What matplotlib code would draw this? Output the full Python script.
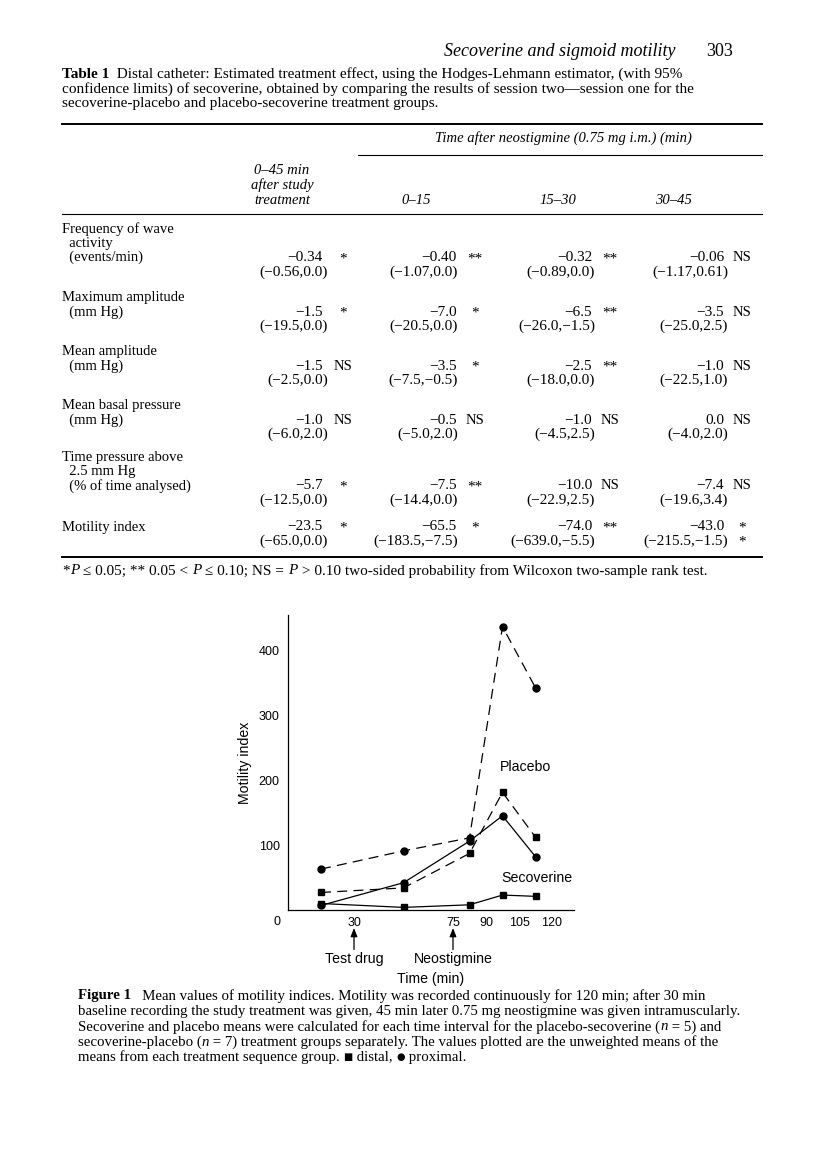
import numpy as np
import matplotlib.pyplot as plt

# chart data
time_mid = [15, 52.5, 82.5, 97.5, 112.5]
placebo_proximal = [63, 91, 111, 436, 342]
placebo_distal = [27, 34, 87, 181, 112]
secoverine_proximal = [7, 42, 106, 145, 82]
secoverine_distal = [10, 4, 8, 23, 21]
xticks = [30, 75, 90, 105, 120]
yticks = [100, 200, 300, 400]

# table 1 data
row_labels = [
    ["Frequency of wave", "  activity", "  (events/min)"],
    ["Maximum amplitude", "  (mm Hg)"],
    ["Mean amplitude", "  (mm Hg)"],
    ["Mean basal pressure", "  (mm Hg)"],
    ["Time pressure above", "  2.5 mm Hg", "  (% of time analysed)"],
    ["Motility index"],
]
estimates = [
    ["\u22120.34", "\u22120.40", "\u22120.32", "\u22120.06"],
    ["\u22121.5", "\u22127.0", "\u22126.5", "\u22123.5"],
    ["\u22121.5", "\u22123.5", "\u22122.5", "\u22121.0"],
    ["\u22121.0", "\u22120.5", "\u22121.0", "0.0"],
    ["\u22125.7", "\u22127.5", "\u221210.0", "\u22127.4"],
    ["\u221223.5", "\u221265.5", "\u221274.0", "\u221243.0"],
]
limits = [
    ["(\u22120.56,0.0)", "(\u22121.07,0.0)", "(\u22120.89,0.0)", "(\u22121.17,0.61)"],
    ["(\u221219.5,0.0)", "(\u221220.5,0.0)", "(\u221226.0,\u22121.5)", "(\u221225.0,2.5)"],
    ["(\u22122.5,0.0)", "(\u22127.5,\u22120.5)", "(\u221218.0,0.0)", "(\u221222.5,1.0)"],
    ["(\u22126.0,2.0)", "(\u22125.0,2.0)", "(\u22124.5,2.5)", "(\u22124.0,2.0)"],
    ["(\u221212.5,0.0)", "(\u221214.4,0.0)", "(\u221222.9,2.5)", "(\u221219.6,3.4)"],
    ["(\u221265.0,0.0)", "(\u2212183.5,\u22127.5)", "(\u2212639.0,\u22125.5)", "(\u2212215.5,\u22121.5)"],
]
signif = [
    ["*", "**", "**", "NS"],
    ["*", "*", "**", "NS"],
    ["NS", "*", "**", "NS"],
    ["NS", "NS", "NS", "NS"],
    ["*", "**", "NS", "NS"],
    ["*", "*", "**", "*"],
]
signif_ci = ["", "", "", "", "", "*"]  # last cell has a second star
col_heads = ["0\u201315", "15\u201330", "30\u201345"]

W, H = 816, 1165
SERIF = ["Liberation Serif", "DejaVu Serif"]
SANS = ["Liberation Sans", "DejaVu Sans"]
FS = 10.5     # table labels
NUM = 11      # table numbers
CAP = 11      # captions
CH = 10.2     # chart labels

fig = plt.figure(figsize=(W / 100, H / 100), dpi=100)
renderer = fig.canvas.get_renderer()


def px(x, y):
    return x / W, 1 - y / H


def t(x, y, s, ha="left", size=FS, **kw):
    return fig.text(*px(x, y), s, ha=ha, va="center", fontsize=size,
                    family=kw.pop("family", SERIF), **kw)


def runs(x, y, parts, size=FS):
    # draw a line made of pieces with different weight/style
    for s, kw in parts:
        kw = dict(kw)
        tx = t(x, y, s, size=kw.pop("size", size), **kw)
        x += tx.get_window_extent(renderer).width


def hline(y, x0, x1, lw=0.8):
    fig.add_artist(plt.Line2D([x0 / W, x1 / W], [1 - y / H, 1 - y / H],
                              color="black", lw=lw))


# running head
t(675, 52, "Secoverine and sigmoid motility", ha="right", size=13, style="italic")
t(733, 52, "303", ha="right", size=13)

# table caption
runs(62, 74, [("Table 1", dict(weight="bold")),
              ("  Distal catheter: Estimated treatment effect, using the Hodges-Lehmann estimator, (with 95%", {})],
     size=CAP)
t(62, 89, "confidence limits) of secoverine, obtained by comparing the results of session two\u2014session one for the",
  size=CAP)
t(62, 104, "secoverine-placebo and placebo-secoverine treatment groups.", size=CAP)

hline(124, 62, 762, lw=1.4)
t(563, 138, "Time after neostigmine (0.75 mg i.m.) (min)", ha="center", style="italic")
hline(155, 358, 762)
t(282, 171, "0\u201345 min", ha="center", style="italic")
t(282, 185.5, "after study", ha="center", style="italic")
t(282, 200, "treatment", ha="center", style="italic")
for xc, s in zip([416, 558, 673], col_heads):
    t(xc, 200, s, ha="center", style="italic")
hline(214, 62, 762)

val_right = [323, 457, 592, 724]
ci_right = [328, 458, 595, 728]
sig_x = [343, 475, 610, 742]
row_top = [229, 298, 352, 406, 457, 527]
step = 14.3
for i, labels in enumerate(row_labels):
    y0 = row_top[i]
    for k, lab in enumerate(labels):
        t(62, y0 + k * step, lab)
    yv = y0 + (len(labels) - 1) * step
    for j in range(4):
        t(val_right[j], yv, estimates[i][j], ha="right", size=NUM)
        if signif[i][j] == "NS":
            t(sig_x[j], yv, "NS", ha="center", size=FS)
        else:
            t(sig_x[j], yv + 1, signif[i][j], ha="center", size=NUM)
        t(ci_right[j], yv + step, limits[i][j], ha="right", size=NUM)
    if signif_ci[i]:
        t(sig_x[3], yv + step + 1, signif_ci[i], ha="center", size=NUM)

hline(557, 62, 762, lw=1.4)
runs(62, 571, [("*", {}), ("P", dict(style="italic")), (" \u2264 0.05; ** 0.05 < ", {}),
               ("P", dict(style="italic")), (" \u2264 0.10; NS = ", {}), ("P", dict(style="italic")),
               (" > 0.10 two-sided probability from Wilcoxon two-sample rank test.", {})], size=CAP)

# figure 1
ax = fig.add_axes([288 / W, 1 - 910 / H, 286 / W, 295 / H])
dash = (0, (8, 5))
ax.plot(time_mid, placebo_proximal, color="black", lw=0.9, ls=dash, marker="o", ms=5)
ax.plot(time_mid, placebo_distal, color="black", lw=0.9, ls=dash, marker="s", ms=4.5)
ax.plot(time_mid, secoverine_proximal, color="black", lw=0.9, marker="o", ms=5)
ax.plot(time_mid, secoverine_distal, color="black", lw=0.9, marker="s", ms=4.5)
ax.set_xlim(0, 130)
ax.set_ylim(0, 454)
for side in ["top", "right"]:
    ax.spines[side].set_visible(False)
for side in ["left", "bottom"]:
    ax.spines[side].set_linewidth(0.9)
ax.set_xticks(xticks)
ax.set_yticks(yticks)
ax.tick_params(length=0, labelsize=9)
ax.tick_params(axis="x", pad=5)
ax.tick_params(axis="y", pad=6)
for lab in ax.get_xticklabels() + ax.get_yticklabels():
    lab.set_family(SANS)
ax.annotate("0", xy=(0, 0), xytext=(-8, -8.5), textcoords="offset points",
            ha="center", va="center", fontsize=9, family=SANS)
ax.set_ylabel("Motility index", fontsize=CH, family=SANS, labelpad=5)
ax.annotate("Time (min)", xy=(0.5, 0), xycoords="axes fraction", xytext=(0, -49.5),
            textcoords="offset points", ha="center", va="center", fontsize=CH, family=SANS)
for xv, lab in [(30, "Test drug"), (75, "Neostigmine")]:
    ax.annotate("", xy=(xv, 0), xycoords=("data", "axes fraction"), xytext=(xv, -28.5),
                textcoords=("data", "offset points"),
                arrowprops=dict(arrowstyle="-|>,head_length=0.5,head_width=0.2", color="black",
                                lw=0.9, shrinkA=0, shrinkB=13))
    ax.annotate(lab, xy=(xv, 0), xycoords=("data", "axes fraction"), xytext=(0, -35),
                textcoords="offset points", ha="center", va="center", fontsize=CH, family=SANS)
ax.text(96.4, 220, "Placebo", fontsize=CH, family=SANS, va="center")
ax.text(96.8, 49, "Secoverine", fontsize=CH, family=SANS, va="center")

# figure caption
FC = 10.7
runs(78, 996, [("Figure 1", dict(weight="bold")),
               ("   Mean values of motility indices. Motility was recorded continuously for 120 min; after 30 min", {})],
     size=FC)
t(78, 1012, "baseline recording the study treatment was given, 45 min later 0.75 mg neostigmine was given intramuscularly.",
  size=FC)
runs(78, 1027, [("Secoverine and placebo means were calculated for each time interval for the placebo-secoverine (", {}),
                ("n", dict(style="italic")), (" = 5) and", {})], size=FC)
runs(78, 1042, [("secoverine-placebo (", {}), ("n", dict(style="italic")),
                (" = 7) treatment groups separately. The values plotted are the unweighted means of the", {})],
     size=FC)
runs(78, 1057, [("means from each treatment sequence group. ", {}),
                ("\u25a0", dict(family=["DejaVu Sans"], size=7)), (" distal, ", {}),
                ("\u25cf", dict(family=["DejaVu Sans"], size=7)), (" proximal.", {})], size=FC)

fig.savefig("out.png", dpi=100)
